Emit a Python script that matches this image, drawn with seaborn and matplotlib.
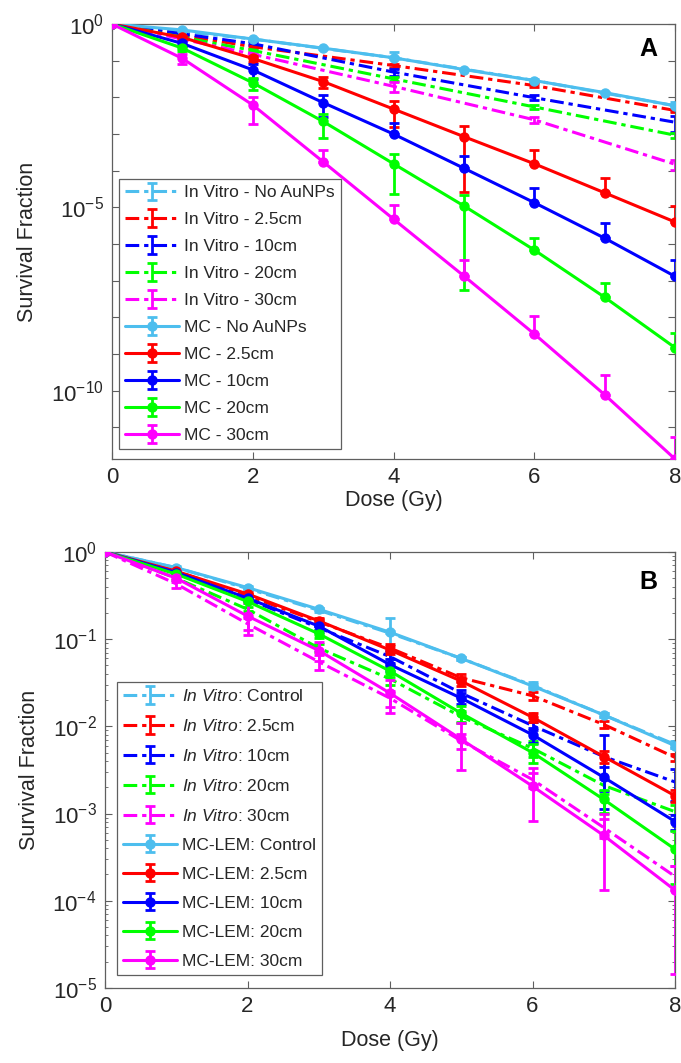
import numpy as np
import matplotlib
matplotlib.use("Agg")
import matplotlib.pyplot as plt
import matplotlib.ticker as ticker
import seaborn as sns

# Doses (Gy)
DOSE = [0, 1, 2, 3, 4, 5, 6, 7, 8]
DOSE_VITRO_A = [0, 2, 4, 6, 8]

GROUPS = ["No AuNPs", "2.5cm", "10cm", "20cm", "30cm"]
GROUPS_B = ["Control", "2.5cm", "10cm", "20cm", "30cm"]
COLORS = ["#4DBEEE", "#FF0000", "#0000FF", "#00FF00", "#FF00FF"]

# Panel A - in vitro survival fraction (doses 0,2,4,6,8) and relative error
a_vitro_sf = [
    [1, 0.39, 0.12, 0.029, 0.0059],
    [1, 0.24, 0.074, 0.021, 4.4e-3],
    [1, 0.29, 0.049, 9.8e-3, 2.1e-3],
    [1, 0.19, 0.032, 5.5e-3, 9.3e-4],
    [1, 0.15, 0.020, 2.45e-3, 1.5e-4],
]
a_vitro_err = [
    [0, 0.10, 0.45, 0.10, 0.30],
    [0, 0.10, 0.12, 0.10, 0.12],
    [0, 0.10, 0.20, 0.15, 0.45],
    [0, 0.10, 0.15, 0.10, 0.15],
    [0, 0.15, 0.30, 0.20, 0.30],
]

# Panel A - MC survival fraction and relative error
a_mc_sf = [
    [1, 0.69, 0.39, 0.22, 0.12, 0.0575, 0.0288, 0.0135, 0.0059],
    [1, 0.43, 0.115, 0.027, 4.8e-3, 8.5e-4, 1.55e-4, 2.5e-5, 4.0e-6],
    [1, 0.295, 0.056, 7.2e-3, 1.0e-3, 1.17e-4, 1.35e-5, 1.45e-6, 1.32e-7],
    [1, 0.22, 0.025, 2.2e-3, 1.55e-4, 1.1e-5, 6.9e-7, 3.55e-8, 1.5e-9],
    [1, 0.115, 6.2e-3, 1.75e-4, 4.8e-6, 1.35e-7, 3.55e-9, 7.8e-11, 1.38e-12],
]
a_mc_err = [
    [0, 0.05, 0.05, 0.05, 0.05, 0.05, 0.05, 0.05, 0.05],
    [0, 0.10, 0.20, 0.35, 0.68, 0.97, 1.30, 1.57, 1.80],
    [0, 0.15, 0.45, 0.60, 1.00, 1.20, 1.46, 1.57, 1.73],
    [0, 0.15, 0.35, 0.65, 0.85, 0.995, 1.18, 1.40, 1.57],
    [0, 0.30, 0.70, 1.09, 1.35, 1.73, 2.10, 2.37, 2.90],
]

# Panel B - in vitro
b_vitro_sf = [
    [1, 0.66, 0.38, 0.214, 0.117, 0.060, 0.0295, 0.0135, 0.0062],
    [1, 0.60, 0.316, 0.158, 0.079, 0.036, 0.0224, 0.0105, 4.4e-3],
    [1, 0.575, 0.288, 0.135, 0.063, 0.024, 0.0102, 4.5e-3, 2.3e-3],
    [1, 0.50, 0.22, 0.079, 0.035, 0.0129, 5.6e-3, 2.1e-3, 1.05e-3],
    [1, 0.43, 0.15, 0.055, 0.021, 6.8e-3, 2.45e-3, 6.9e-4, 1.9e-4],
]
b_vitro_err = [
    [0, 0.05, 0.05, 0.05, 0.50, 0.05, 0.08, 0.05, 0.10],
    [0, 0.05, 0.05, 0.08, 0.10, 0.10, 0.10, 0.10, 0.10],
    [0, 0.05, 0.05, 0.10, 0.15, 0.10, 0.10, 0.75, 0.40],
    [0, 0.05, 0.05, 0.10, 0.15, 0.15, 0.20, 0.20, 0.20],
    [0, 0.10, 0.15, 0.20, 0.20, 0.20, 0.20, 0.25, 0.30],
]

# Panel B - MC-LEM
b_mc_sf = [
    [1, 0.66, 0.39, 0.22, 0.12, 0.060, 0.029, 0.0135, 0.006],
    [1, 0.60, 0.33, 0.162, 0.075, 0.033, 0.0127, 4.5e-3, 1.6e-3],
    [1, 0.58, 0.295, 0.141, 0.051, 0.021, 8.0e-3, 2.6e-3, 8.1e-4],
    [1, 0.556, 0.27, 0.115, 0.043, 0.0141, 5.0e-3, 1.45e-3, 3.9e-4],
    [1, 0.50, 0.184, 0.074, 0.024, 7.1e-3, 2.06e-3, 5.6e-4, 1.32e-4],
]
b_mc_err = [
    [0, 0.03, 0.03, 0.03, 0.03, 0.03, 0.05, 0.05, 0.05],
    [0, 0.05, 0.05, 0.08, 0.10, 0.12, 0.12, 0.15, 0.15],
    [0, 0.05, 0.05, 0.10, 0.15, 0.15, 0.20, 0.30, 0.20],
    [0, 0.05, 0.05, 0.10, 0.15, 0.20, 0.25, 0.30, 0.60],
    [0, 0.10, 0.40, 0.25, 0.40, 0.55, 0.60, 0.76, 0.89],
]

# Style
sns.set_style("ticks")
plt.rcParams['font.family'] = ['Liberation Sans', 'DejaVu Sans']
plt.rcParams['mathtext.fontset'] = 'custom'
plt.rcParams['mathtext.rm'] = 'Liberation Sans'
plt.rcParams['mathtext.it'] = 'Liberation Sans:italic'
plt.rcParams['mathtext.bf'] = 'Liberation Sans:bold'

AXIS_COLOR = "#5f5f5f"
TEXT_COLOR = "#262626"
DASHDOT = (0, (4.5, 1.6, 1.4, 1.6))


def draw_series(ax, x, sf, rel, color, solid, label):
    sf = np.asarray(sf, dtype=float)
    rel = np.asarray(rel, dtype=float)
    upper = sf * rel
    lower = np.where(rel < 1, sf * rel, 0)  # negative lower ends are not shown on log axes
    ax.errorbar(
        x, sf, yerr=[lower, upper],
        color=color,
        ls='-' if solid else DASHDOT,
        lw=2.2,
        marker='o' if solid else None,
        ms=6.5,
        elinewidth=2.0, capsize=3.4, capthick=2.0,
        label=label,
        zorder=3 if solid else 2,
    )


def style_axes(ax, xpad):
    ax.set_yscale('log')
    ax.set_xlim(0, 8)
    ax.set_xticks([0, 2, 4, 6, 8])
    for s in ax.spines.values():
        s.set_color(AXIS_COLOR)
        s.set_linewidth(0.9)
    ax.tick_params(which='both', direction='in', top=True, right=True,
                   color=AXIS_COLOR, labelcolor=TEXT_COLOR, labelsize=16, pad=6)
    ax.tick_params(which='major', length=5, width=0.8)
    ax.tick_params(which='minor', length=2.5, width=0.6)
    ax.set_xlabel("Dose (Gy)", fontsize=15.5, color=TEXT_COLOR, labelpad=xpad)
    ax.set_ylabel("Survival Fraction", fontsize=15.5, color=TEXT_COLOR,
                  family=['Liberation Sans Narrow', 'Liberation Sans'], labelpad=9)


def log_label(v, pos, step=1):
    e = int(round(np.log10(v)))
    if e % step != 0:
        return ""
    return r"$10^{%d}$" % e


fig = plt.figure(figsize=(6.81, 10.63), dpi=100)
ax1 = fig.add_axes([0.1645, 0.5682, 0.8267, 0.4092])
ax2 = fig.add_axes([0.1542, 0.0706, 0.8370, 0.4102])

# Panel A
for i in range(5):
    draw_series(ax1, DOSE_VITRO_A, a_vitro_sf[i], a_vitro_err[i], COLORS[i], False,
                f"In Vitro - {GROUPS[i]}")
for i in range(5):
    draw_series(ax1, DOSE, a_mc_sf[i], a_mc_err[i], COLORS[i], True,
                f"MC - {GROUPS[i]}")
style_axes(ax1, 1)
ax1.set_ylim(min(min(s) for s in a_mc_sf), 1)
ax1.yaxis.set_major_locator(ticker.FixedLocator([10.0 ** -k for k in range(12)]))
ax1.yaxis.set_minor_locator(ticker.NullLocator())
ax1.yaxis.set_major_formatter(ticker.FuncFormatter(lambda v, p: log_label(v, p, 5)))
ax1.text(0.952, 0.943, "A", transform=ax1.transAxes, fontsize=18, fontweight='bold',
         ha='center', va='center', color='black')
leg1 = ax1.legend(loc='lower left', bbox_to_anchor=(0.012, 0.023), borderaxespad=0,
                  fontsize=12.5, handlelength=3.1, labelspacing=0.68, handletextpad=0.3,
                  borderpad=0.35, fancybox=False, framealpha=1, edgecolor=AXIS_COLOR)
leg1.get_frame().set_linewidth(0.9)

# Panel B
for i in range(5):
    draw_series(ax2, DOSE, b_vitro_sf[i], b_vitro_err[i], COLORS[i], False,
                r"$\it{In\ Vitro}$: " + GROUPS_B[i])
for i in range(5):
    draw_series(ax2, DOSE, b_mc_sf[i], b_mc_err[i], COLORS[i], True,
                f"MC-LEM: {GROUPS_B[i]}")
style_axes(ax2, 9)
ax2.set_ylim(1e-5, 1)
ax2.yaxis.set_major_locator(ticker.LogLocator(base=10, numticks=10))
ax2.yaxis.set_minor_locator(ticker.LogLocator(base=10, subs=np.arange(2, 10), numticks=20))
ax2.yaxis.set_minor_formatter(ticker.NullFormatter())
ax2.yaxis.set_major_formatter(ticker.FuncFormatter(lambda v, p: log_label(v, p, 1)))
ax2.text(0.953, 0.931, "B", transform=ax2.transAxes, fontsize=18, fontweight='bold',
         ha='center', va='center', color='black')
leg2 = ax2.legend(loc='lower left', bbox_to_anchor=(0.021, 0.03), borderaxespad=0,
                  fontsize=12.5, handlelength=3.1, labelspacing=0.8, handletextpad=0.3,
                  borderpad=0.35, fancybox=False, framealpha=1, edgecolor=AXIS_COLOR)
leg2.get_frame().set_linewidth(0.9)

fig.savefig("out.png", dpi=100)
